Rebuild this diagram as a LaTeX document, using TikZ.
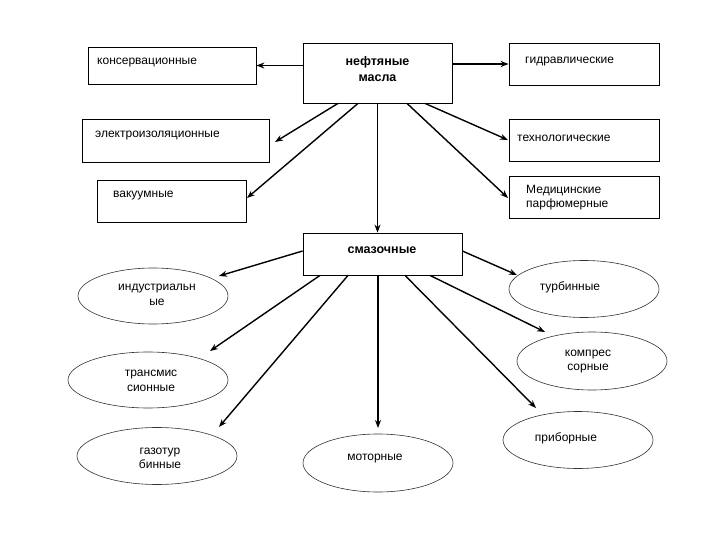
\documentclass[tikz,border=0pt]{standalone}
\usepackage{fontspec}
\setmainfont{Liberation Sans}
\usetikzlibrary{shapes.geometric,arrows.meta}
\begin{document}
\begin{tikzpicture}[x=1pt,y=-1pt,
  box/.style={draw=black,line width=0.8pt,rectangle,inner sep=0pt,fill=white},
  oval/.style={draw=black!80,line width=0.6pt,ellipse,inner sep=0pt},
  txt/.style={inner sep=0pt,font=\fontsize{12}{14.5}\selectfont,align=center},
  btxt/.style={inner sep=0pt,font=\fontsize{12.5}{16}\selectfont\bfseries,align=center},
  arr/.style={draw=black,line width=1.4pt,-{Stealth[length=8pt,width=6pt]}}]
\useasboundingbox (0,0) rectangle (720,540);
% boxes
\node[box,minimum width=168pt,minimum height=37pt] (kons) at (172,65.5) {};
\node[box,minimum width=149pt,minimum height=60pt] (oil) at (377.5,73) {};
\node[box,minimum width=150pt,minimum height=42pt] (gidr) at (584,64) {};
\node[box,minimum width=187pt,minimum height=43pt] (elek) at (175.5,140.5) {};
\node[box,minimum width=150pt,minimum height=42pt] (tech) at (584,140) {};
\node[box,minimum width=149pt,minimum height=42pt] (vak) at (171.5,201) {};
\node[box,minimum width=150pt,minimum height=42pt] (med) at (584,197) {};
\node[box,minimum width=159pt,minimum height=42pt] (smaz) at (382.5,254) {};
% box texts
\node[txt,anchor=west] at (97,63) {консервационные};
\node[btxt] at (377.5,69.5) {нефтяные\\масла};
\node[txt,anchor=west] at (525,62) {гидравлические};
\node[txt,anchor=west] at (95,136) {электроизоляционные};
\node[txt,anchor=west] at (517,138) {технологические};
\node[txt,anchor=west] at (113,196) {вакуумные};
\node[txt,anchor=west,align=left] at (526,197.5) {Медицинские\\парфюмерные};
\node[btxt] at (382,250) {смазочные};
% ellipses
\node[oval,minimum width=150pt,minimum height=56pt] (ind) at (153,296) {};
\node[oval,minimum width=160pt,minimum height=56pt] (trans) at (148,380) {};
\node[oval,minimum width=160pt,minimum height=57pt] (gazo) at (157,456) {};
\node[oval,minimum width=150pt,minimum height=58pt] (motor) at (378,463) {};
\node[oval,minimum width=150pt,minimum height=57pt] (turb) at (584,289) {};
\node[oval,minimum width=150pt,minimum height=58pt] (komp) at (592,361) {};
\node[oval,minimum width=150pt,minimum height=57pt] (prib) at (578,440) {};
% ellipse texts
\node[txt] at (157,295) {индустриальн\\ые};
\node[txt] at (151,381) {трансмис\\сионные};
\node[txt] at (160,458.5) {газотур\\бинные};
\node[txt] at (375,459) {моторные};
\node[txt] at (570,287) {турбинные};
\node[txt] at (588,361.5) {компрес\\сорные};
\node[txt] at (566,438) {приборные};
% arrow end points
\coordinate (eElek) at (275,142);
\coordinate (eVak) at (247,198);
\coordinate (eTech) at (508,140);
\coordinate (eMed) at (508,198);
\coordinate (eInd) at (219,276);
\coordinate (eTrans) at (210,351);
\coordinate (eGazo) at (219,427);
\coordinate (eMot) at (378,428);
\coordinate (eTurb) at (517,275);
\coordinate (eKomp) at (545,332);
\coordinate (ePrib) at (536,408);
% arrows from oil
\draw[arr] (oil.west |- kons.east) -- (kons.east);
\draw[arr] (oil.east |- gidr.west) -- (gidr.west);
\draw[arr] ([xshift=-39.5pt]oil.south) -- (eElek);
\draw[arr] ([xshift=-19.5pt]oil.south) -- (eVak);
\draw[arr] ([xshift=47.5pt]oil.south) -- (eTech);
\draw[arr] ([xshift=29.5pt]oil.south) -- (eMed);
\draw[arr] (oil.south) -- (oil.south |- smaz.north);
% arrows from smaz
\draw[arr] ([yshift=3pt]smaz.west) -- (eInd);
\draw[arr] ([xshift=-62.5pt]smaz.south) -- (eTrans);
\draw[arr] ([xshift=-34.5pt]smaz.south) -- (eGazo);
\draw[arr] (smaz.south -| eMot) -- (eMot);
\draw[arr] ([yshift=3pt]smaz.east) -- (eTurb);
\draw[arr] ([xshift=47.5pt]smaz.south) -- (eKomp);
\draw[arr] ([xshift=22.5pt]smaz.south) -- (ePrib);
\end{tikzpicture}
\end{document}
